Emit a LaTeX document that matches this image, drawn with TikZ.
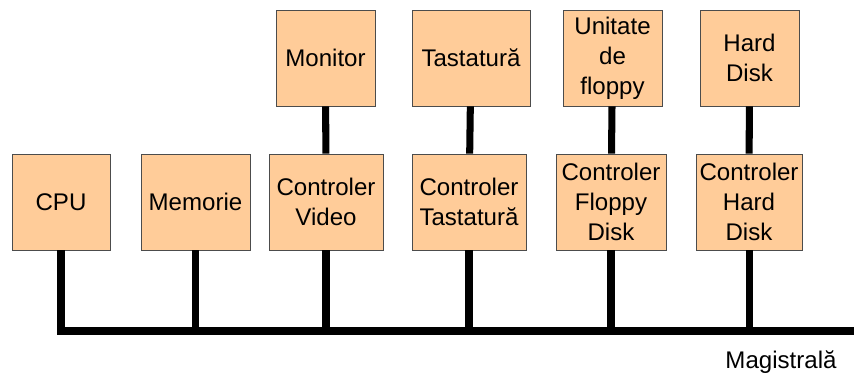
\documentclass[tikz,border=0pt]{standalone}
\usepackage{fontspec}
\setmainfont{Liberation Sans}
\begin{document}
\begin{tikzpicture}[x=0.02cm,y=-0.02cm,
           box_style/.style={rectangle,draw=black!70,fill=boxfill,
                             minimum height=1.92cm,inner sep=1pt,align=center,
                             font=\fontsize{13.7}{17}\selectfont},
           wire_style/.style={draw=black,line width=4pt},
           label_style/.style={font=\fontsize{13.7}{17}\selectfont}]
            \definecolor{boxfill}{HTML}{FFCC99}
            \useasboundingbox (0,0) rectangle (854,374);
            % bottom row
            \node[box_style,minimum width=1.96cm] (cpu) at (61,202) {CPU};
            \node[box_style,minimum width=2.18cm] (mem) at (195.5,202) {Memorie};
            \node[box_style,minimum width=2.28cm] (cvid) at (326,202) {Controler\\Video};
            \node[box_style,minimum width=2.28cm] (ctast) at (469,202) {Controler\\Tastatură};
            \node[box_style,minimum width=2.2cm] (cflop) at (611,202) {Controler\\Floppy\\Disk};
            \node[box_style,minimum width=2.12cm] (chard) at (749,202) {Controler\\Hard\\Disk};
            % top row
            \node[box_style,minimum width=1.98cm] (mon) at (325.5,58) {Monitor};
            \node[box_style,minimum width=2.36cm] (tast) at (471,58) {Tastatură};
            \node[box_style,minimum width=1.98cm] (flop) at (612.5,58) {Unitate\\de\\floppy};
            \node[box_style,minimum width=1.98cm] (hard) at (749.5,58) {Hard\\Disk};
            \node[label_style] (mag) at (781,362) {Magistrală};
            % bus
            \coordinate (busL) at (cpu.south |- 0,331);
            \coordinate (busR) at (854,331);
            % wires
            \draw[wire_style] (cpu.south) -- (busL) -- (busR);
            \draw[wire_style] (mem.south) -- (mem.south |- busL);
            \draw[wire_style] (cvid.south) -- (cvid.south |- busL);
            \draw[wire_style] (ctast.south) -- (ctast.south |- busL);
            \draw[wire_style] (cflop.south) -- (cflop.south |- busL);
            \draw[wire_style] (chard.south) -- (chard.south |- busL);
            \draw[wire_style] (mon) -- (cvid);
            \draw[wire_style] (tast) -- (ctast);
            \draw[wire_style] (flop) -- (cflop);
            \draw[wire_style] (hard) -- (chard);
        \end{tikzpicture}
\end{document}
